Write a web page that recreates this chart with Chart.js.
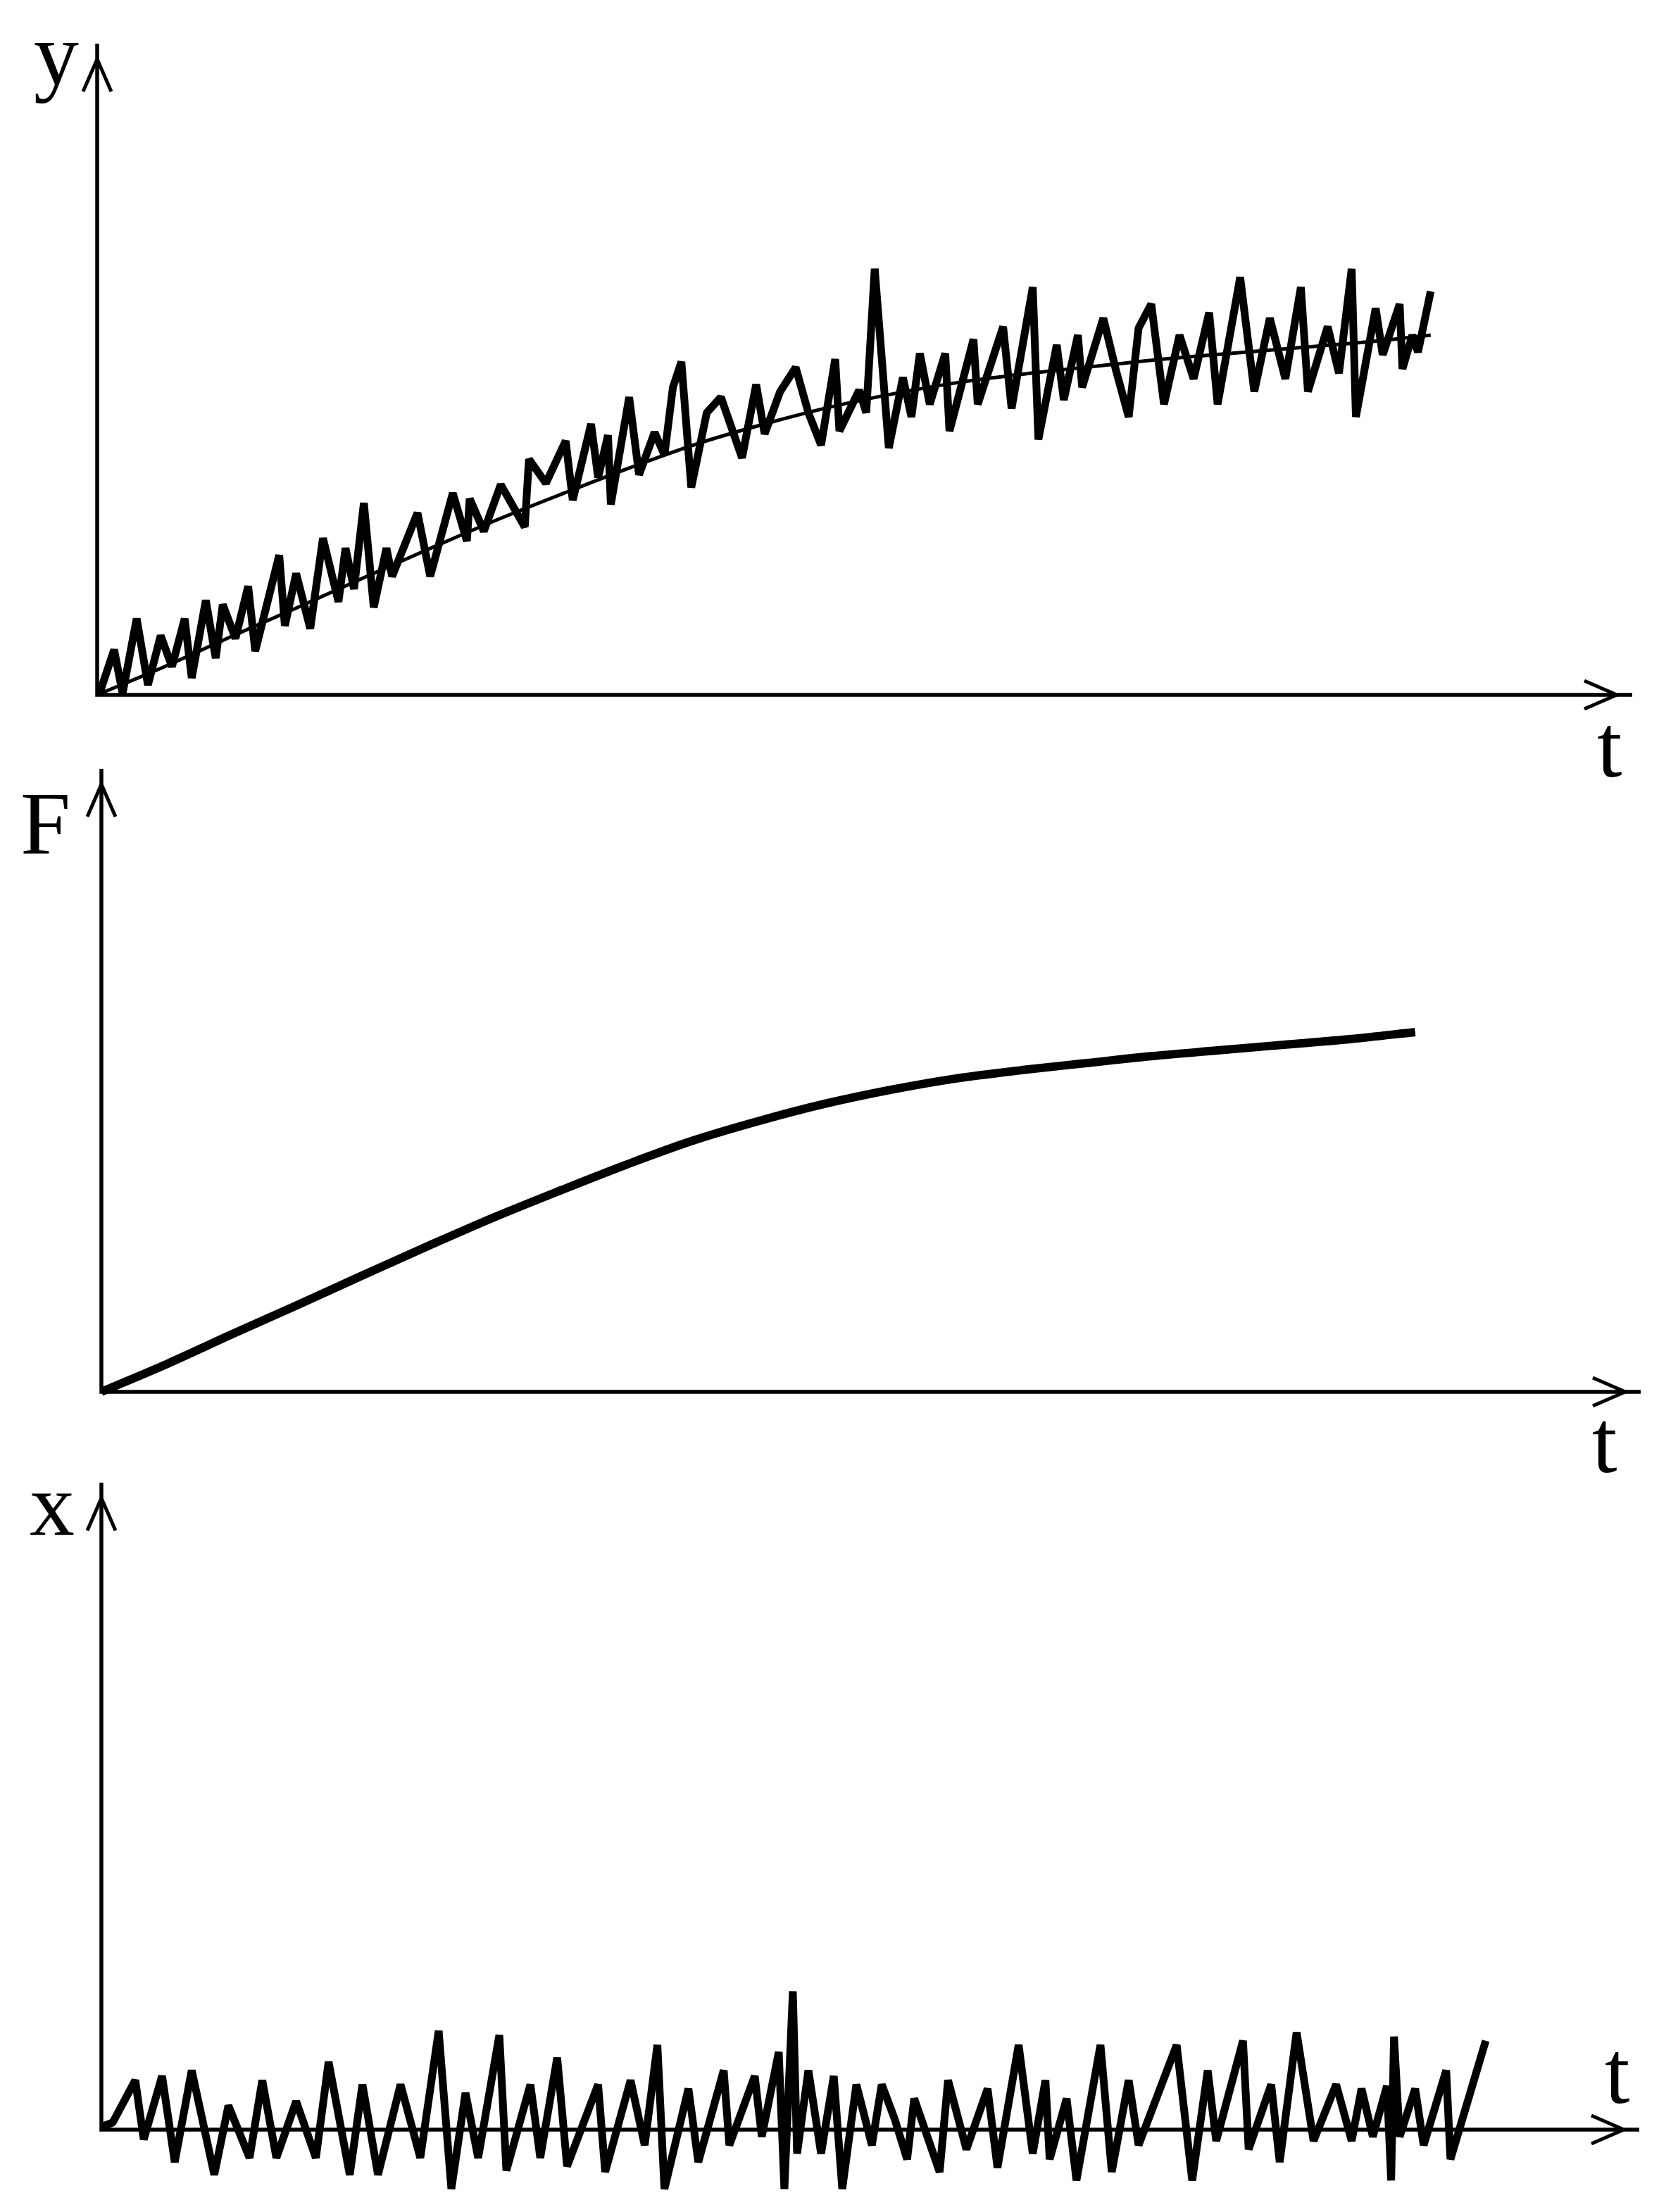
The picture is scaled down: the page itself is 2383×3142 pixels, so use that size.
<!DOCTYPE html>
<html>
<head>
<meta charset="utf-8">
<title>y, F, x versus t</title>
<script src="https://cdn.jsdelivr.net/npm/chart.js@4.4.1/dist/chart.umd.min.js"></script>
<style>
  html, body { margin: 0; padding: 0; background: #fff; }
  body { width: 2383px; height: 3142px; position: relative; overflow: hidden; }
  canvas { position: absolute; left: 0; top: 0; }
</style>
</head>
<body>
<canvas id="panelY" width="2383" height="3142"></canvas>
<canvas id="panelF" width="2383" height="3142"></canvas>
<canvas id="panelX" width="2383" height="3142"></canvas>
<script>
// top panel: noisy response y(t)
const yTime = [0.2, 1.2, 1.8, 2.8, 3.6, 4.5, 5.3, 6.2, 6.7, 7.7,
  8.4, 8.9, 9.8, 10.7, 11.2, 12.9, 13.3, 14.1, 15.1, 16.0,
  17.1, 17.6, 18.2, 18.9, 19.6, 20.5, 20.9, 22.7, 23.6, 25.2,
  26.2, 26.4, 27.4, 28.6, 30.3, 30.6, 31.8, 33.2, 33.7, 35.0,
  35.5, 36.2, 36.4, 37.7, 38.4, 39.5, 40.2, 40.8, 41.4, 42.1,
  43.2, 44.2, 45.7, 46.7, 47.3, 48.4, 49.5, 50.4, 51.3, 52.3,
  52.6, 54.0, 54.5, 55.1, 56.1, 57.1, 57.7, 58.3, 59.0, 60.1,
  60.4, 62.1, 62.4, 64.2, 64.8, 66.3, 66.7, 68.0, 68.5, 69.5,
  69.8, 71.3, 72.2, 73.1, 73.8, 74.7, 75.6, 76.7, 77.7, 78.8,
  79.4, 81.0, 82.0, 83.1, 84.2, 85.3, 85.8, 87.2, 88.0, 88.9,
  89.2, 90.6, 91.1, 92.3, 92.5, 93.2, 93.6, 94.5];
const yValues = [2, 32, 1, 54, 7, 42, 20, 54, 12, 67,
  26, 64, 40, 77, 31, 99, 49, 86, 47, 111,
  66, 104, 75, 136, 62, 104, 84, 129, 84, 143,
  109, 139, 116, 149, 119, 167, 150, 180, 138, 192,
  154, 184, 135, 211, 156, 186, 170, 218, 236, 147,
  200, 211, 168, 220, 185, 215, 232, 200, 177, 238,
  187, 216, 200, 302, 175, 225, 197, 242, 206, 242,
  187, 252, 206, 261, 203, 289, 181, 248, 209, 255,
  218, 267, 230, 197, 260, 277, 206, 255, 224, 271,
  206, 296, 215, 267, 224, 289, 215, 261, 228, 302,
  197, 274, 241, 277, 231, 255, 243, 286];

// middle panel: smooth F(t)
const fTime = [0, 4.7, 9.3, 14.0, 18.6, 23.3, 27.9, 32.6, 37.2, 41.9,
  46.6, 51.2, 55.9, 60.5, 65.2, 69.8, 74.5, 79.1, 83.8, 88.5, 93.1];
const fValues = [0, 20, 41, 62, 83, 104, 124, 143, 161, 178,
  192, 204, 214, 222, 228, 233, 238, 242, 246, 250, 255];

// bottom panel: noise x(t)
const xTime = [0.0, 0.8, 2.4, 3.0, 4.3, 5.2, 6.4, 8.0, 9.0, 10.5,
  11.4, 12.4, 13.8, 15.2, 16.1, 17.6, 18.5, 19.6, 21.2, 22.6,
  23.9, 24.8, 25.8, 26.7, 28.2, 28.7, 30.4, 31.1, 32.3, 33.0,
  35.2, 35.7, 37.5, 38.5, 39.4, 39.9, 41.6, 42.3, 44.1, 44.5,
  46.3, 46.8, 48.0, 48.4, 49.0, 49.3, 50.1, 51.0, 51.9, 52.5,
  53.5, 54.6, 55.3, 56.2, 57.1, 57.6, 59.4, 60.0, 61.3, 62.8,
  63.5, 65.0, 66.0, 66.9, 67.2, 68.4, 69.1, 70.8, 71.6, 72.8,
  73.5, 76.2, 77.3, 78.4, 79.0, 80.9, 81.3, 82.9, 83.5, 84.7,
  85.9, 87.5, 88.6, 89.3, 90.1, 91.1, 91.4, 91.6, 92.0, 93.1,
  93.7, 95.3, 95.6, 98.1];
const xValues = [2, 5, 35, -7, 38, -23, 42, -32, 17, -20,
  35, -20, 20, -20, 48, -32, 32, -32, 32, -20,
  70, -42, 26, -20, 67, -29, 32, -20, 51, -26,
  32, -30, 35, -11, 60, -42, 29, -23, 42, -11,
  38, -5, 55, -42, 98, -17, 42, -17, 38, -42,
  32, -11, 32, 8, -21, 22, -30, 35, -14, 29,
  -27, 60, -17, 35, -21, 22, -36, 60, -30, 35,
  -11, 60, -36, 42, -8, 63, -14, 32, -23, 69,
  -8, 32, -8, 29, -5, 31, -36, 66, -5, 29,
  -11, 42, -21, 63];

const PAGE_W = 2383, PAGE_H = 3142;
const PX_PER_T = 20.04;   // pixels per time unit
const PX_PER_V = 2.004;   // pixels per value unit

function points(ts, vs) {
  return ts.map((t, i) => ({ x: t, y: vs[i] }));
}

// the trend drawn through y(t) is F(t) stretched over the same time span
const trendTime = fTime.map(t => t * yTime[yTime.length - 1] / fTime[fTime.length - 1]);

// axes with open arrow heads, plus the axis letters
const arrowAxes = {
  id: 'arrowAxes',
  beforeDatasetsDraw(chart, args, opts) {
    const { ctx, chartArea, scales } = chart;
    const x0 = scales.x.getPixelForValue(0);
    const y0 = scales.y.getPixelForValue(0);
    const xTip = chartArea.right;
    const yTip = chartArea.top;
    ctx.save();
    ctx.strokeStyle = '#000';
    ctx.lineWidth = 5.5;
    ctx.beginPath();
    ctx.moveTo(x0, y0 + 2.75);
    ctx.lineTo(x0, yTip);
    ctx.moveTo(x0 - 2.75, y0);
    ctx.lineTo(xTip, y0);
    ctx.stroke();

    ctx.lineWidth = 5;
    ctx.beginPath();
    ctx.moveTo(x0 - 20, yTip + 68);
    ctx.lineTo(x0, yTip + 22);
    ctx.lineTo(x0 + 20, yTip + 68);
    ctx.moveTo(xTip - 68, y0 - 20);
    ctx.lineTo(xTip - 22, y0);
    ctx.lineTo(xTip - 68, y0 + 20);
    ctx.stroke();

    ctx.fillStyle = '#000';
    ctx.font = '128px "Liberation Serif", "DejaVu Serif", serif';
    ctx.textBaseline = 'alphabetic';
    ctx.fillText(opts.yLabel, opts.yLabelAt[0], opts.yLabelAt[1]);
    ctx.fillText(opts.tLabel, opts.tLabelAt[0], opts.tLabelAt[1]);
    ctx.restore();
  }
};

const panels = [
  {
    canvas: 'panelY',
    area: { left: 138, right: 2318, top: 62, baseline: 987, bottom: 987 },
    yLabel: 'y', yLabelAt: [48, 120], tLabelAt: [2268, 1103],
    datasets: [
      { data: points(yTime, yValues), borderWidth: 11 },
      { data: points(trendTime, fValues), borderWidth: 5, cubicInterpolationMode: 'monotone' }
    ]
  },
  {
    canvas: 'panelF',
    area: { left: 144, right: 2330, top: 1092, baseline: 1977, bottom: 1977 },
    yLabel: 'F', yLabelAt: [29, 1212], tLabelAt: [2261, 2091],
    datasets: [
      { data: points(fTime, fValues), borderWidth: 12, cubicInterpolationMode: 'monotone' }
    ]
  },
  {
    canvas: 'panelX',
    area: { left: 144, right: 2328, top: 2106, baseline: 3025, bottom: 3142 },
    yLabel: 'x', yLabelAt: [42, 2180], tLabelAt: [2279, 2987],
    datasets: [
      { data: points(xTime, xValues), borderWidth: 11 }
    ]
  }
];

panels.forEach(p => {
  const a = p.area;
  new Chart(document.getElementById(p.canvas), {
    type: 'line',
    data: {
      datasets: p.datasets.map(d => Object.assign({
        borderColor: '#000',
        pointRadius: 0,
        fill: false,
        tension: 0,
        clip: false,
        borderJoinStyle: 'bevel',
        borderCapStyle: 'butt'
      }, d))
    },
    options: {
      responsive: false,
      animation: false,
      events: [],
      layout: {
        padding: { left: a.left, right: PAGE_W - a.right, top: a.top, bottom: PAGE_H - a.bottom }
      },
      scales: {
        x: { type: 'linear', display: false, min: 0, max: (a.right - a.left) / PX_PER_T },
        y: { type: 'linear', display: false,
             min: -(a.bottom - a.baseline) / PX_PER_V, max: (a.baseline - a.top) / PX_PER_V }
      },
      plugins: {
        legend: { display: false },
        tooltip: { enabled: false },
        arrowAxes: { yLabel: p.yLabel, yLabelAt: p.yLabelAt, tLabel: 't', tLabelAt: p.tLabelAt }
      }
    },
    plugins: [arrowAxes]
  });
});
</script>
</body>
</html>
